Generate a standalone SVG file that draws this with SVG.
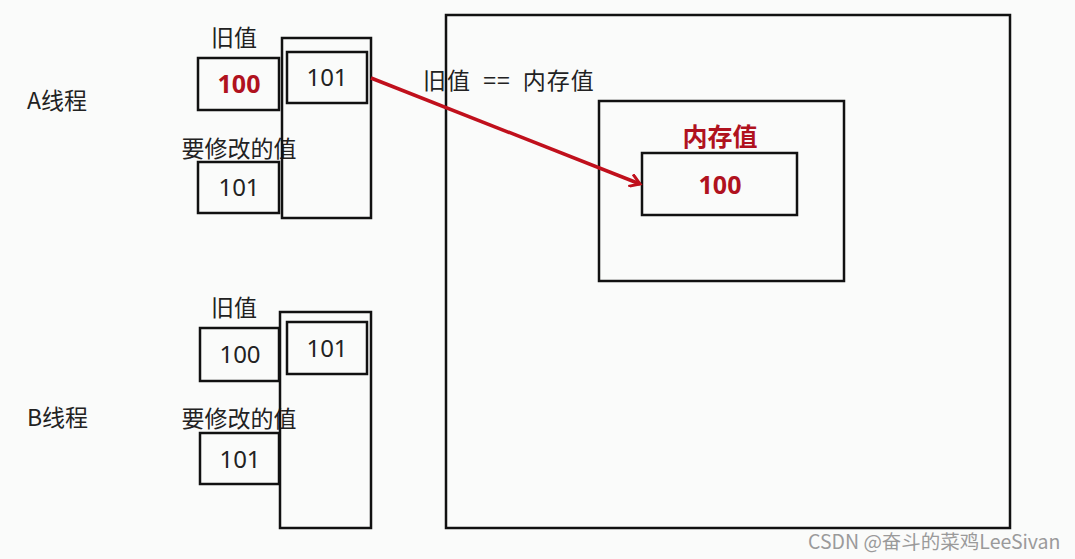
<svg xmlns="http://www.w3.org/2000/svg" width="1075" height="559" viewBox="0 0 1075 559">
<style>
.box{fill:none;stroke:#111;stroke-width:2.5}
.t{font-family:"Noto Sans CJK SC","Noto Sans",sans-serif;font-size:23px;fill:#222}
.n{font-family:"Noto Sans","Noto Sans CJK SC",sans-serif;font-size:24px;fill:#222;text-anchor:middle}
.r{font-family:"Noto Sans","Noto Sans CJK SC",sans-serif;font-size:25px;fill:#b0121e;font-weight:bold;text-anchor:middle}
.c{text-anchor:middle}
</style>
<defs>
<marker id="ah" markerWidth="14" markerHeight="14" refX="11" refY="7" orient="auto" markerUnits="userSpaceOnUse">
<path d="M1,0.5 L11,7 L1,13.5" fill="none" stroke="#c0101c" stroke-width="3"/>
</marker>
</defs>
<rect width="1075" height="559" fill="#fafbfa"/>
<g id="memory">
<rect class="box" x="446" y="15" width="564" height="513"/>
<rect class="box" x="599" y="101" width="245" height="180"/>
<text class="r" x="720" y="146" font-size="24" font-family="Noto Sans CJK SC">内存值</text>
<rect class="box" x="642" y="153" width="155" height="62"/>
<text class="r" x="720" y="194" font-size="27">100</text>
</g>
<g id="threadA">
<text class="t" x="27" y="109">A线程</text>
<text class="t c" x="234" y="46">旧值</text>
<rect class="box" x="198" y="58" width="81" height="52"/>
<text class="r" x="239" y="93">100</text>
<text class="t c" x="239" y="157" font-size="24">要修改的值</text>
<rect class="box" x="198" y="162" width="81" height="51"/>
<text class="n" x="239" y="196">101</text>
<rect class="box" x="282" y="38" width="89" height="180"/>
<rect class="box" x="287" y="52" width="80" height="51"/>
<text class="n" x="327" y="86">101</text>
</g>
<g id="threadB">
<text class="t" x="27" y="426">B线程</text>
<text class="t c" x="234" y="316">旧值</text>
<rect class="box" x="200" y="328" width="79" height="53"/>
<text class="n" x="240" y="363">100</text>
<text class="t c" x="239" y="427" font-size="24">要修改的值</text>
<rect class="box" x="200" y="433" width="79" height="51"/>
<text class="n" x="240" y="468">101</text>
<rect class="box" x="280" y="312" width="91" height="216"/>
<rect class="box" x="287" y="322" width="80" height="52"/>
<text class="n" x="327" y="357">101</text>
</g>
<g id="connectors">
<line x1="371" y1="78" x2="640" y2="184" stroke="#c0101c" stroke-width="3.5" marker-end="url(#ah)"/>
<text class="t" x="423" y="89" font-size="23" word-spacing="6" letter-spacing="1">旧值 == 内存值</text>
</g>
<text x="808" y="549" font-family="Noto Sans CJK SC,sans-serif" font-size="19.5" fill="#9a9a9a">CSDN @奋斗的菜鸡LeeSivan</text>
</svg>
